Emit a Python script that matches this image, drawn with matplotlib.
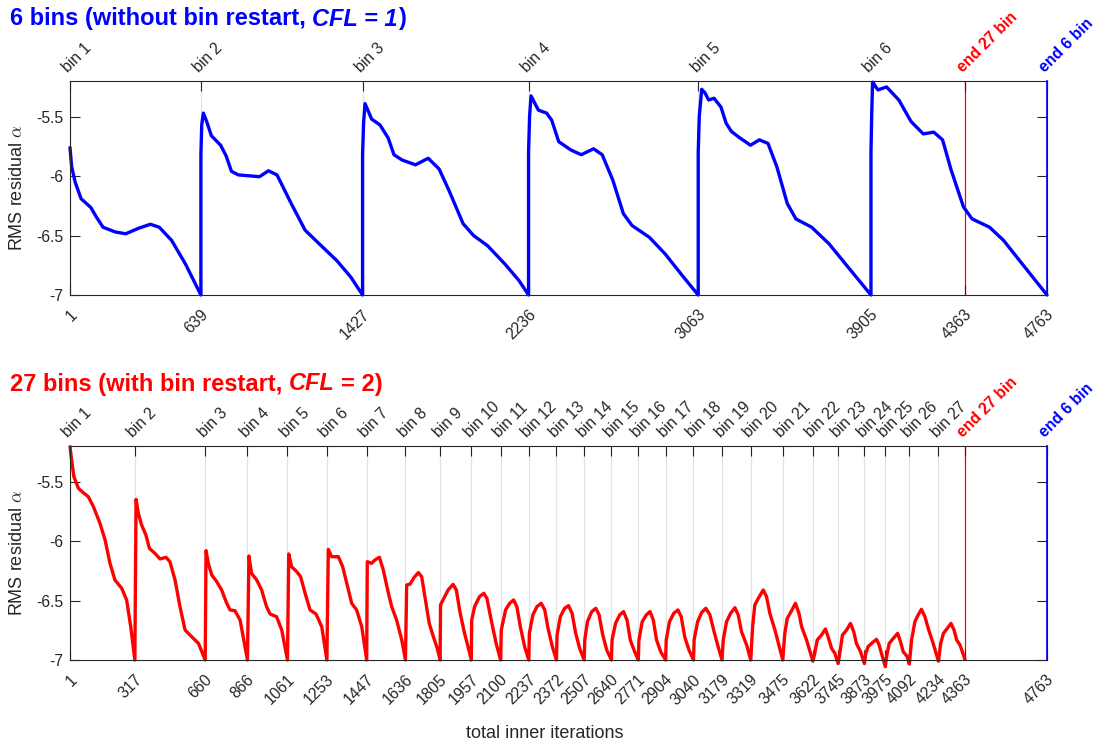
import matplotlib
matplotlib.use('Agg')
import matplotlib.pyplot as plt
from matplotlib.transforms import ScaledTranslation, blended_transform_factory

plt.rcParams['font.family'] = ['Liberation Sans', 'DejaVu Sans']
plt.rcParams['axes.unicode_minus'] = False
plt.rcParams['mathtext.fontset'] = 'cm'

# ---------------- data ----------------
x_max = 4763
end27 = 4363

top_bins = [1, 639, 1427, 2236, 3063, 3905]
top_bin_labels = ['bin 1', 'bin 2', 'bin 3', 'bin 4', 'bin 5', 'bin 6']

bot_bins = [1, 317, 660, 866, 1061, 1253, 1447, 1636, 1805, 1957, 2100, 2237, 2372,
            2507, 2640, 2771, 2904, 3040, 3179, 3319, 3475, 3622, 3745, 3873, 3975,
            4092, 4234]
bot_bin_labels = ['bin %d' % (i + 1) for i in range(27)]

end_labels = ['end 27 bin', 'end 6 bin']

# 6-bin residual history (iteration, log10 RMS residual)
top_iter = [1, 9, 26, 55, 103, 128, 162, 222, 273, 333, 393, 436, 496, 564, 639,
            639, 643, 651, 667, 690, 735, 762, 788, 822, 891, 925, 968, 1010, 1079, 1147, 1216, 1301, 1370, 1427,
            1427, 1432, 1439, 1471, 1512, 1552, 1580, 1620, 1685, 1747, 1800, 1848, 1917, 1968, 2036, 2121, 2190, 2236,
            2236, 2241, 2248, 2284, 2324, 2349, 2383, 2442, 2493, 2553, 2595, 2647, 2698, 2740, 2825, 2902, 2987, 3063,
            3063, 3068, 3080, 3096, 3114, 3140, 3174, 3199, 3225, 3267, 3318, 3361, 3403, 3446, 3497, 3539, 3616, 3701, 3786, 3905,
            3905, 3909, 3913, 3925, 3939, 3981, 4041, 4100, 4160, 4211, 4254, 4296, 4356, 4398, 4483, 4551, 4636, 4763]
top_res = [-5.76, -5.92, -6.05, -6.19, -6.265, -6.34, -6.43, -6.47, -6.485, -6.44, -6.405, -6.43, -6.54, -6.74, -7.0,
           -5.82, -5.57, -5.47, -5.54, -5.66, -5.74, -5.83, -5.96, -5.99, -6.0, -6.005, -5.955, -5.99, -6.23, -6.455, -6.57, -6.71, -6.85, -7.0,
           -5.82, -5.55, -5.39, -5.52, -5.57, -5.68, -5.82, -5.865, -5.905, -5.85, -5.94, -6.12, -6.40, -6.50, -6.585, -6.74, -6.88, -7.0,
           -5.80, -5.50, -5.325, -5.445, -5.47, -5.53, -5.71, -5.78, -5.82, -5.77, -5.82, -6.035, -6.315, -6.415, -6.515, -6.655, -6.84, -7.0,
           -5.80, -5.50, -5.27, -5.30, -5.36, -5.345, -5.42, -5.555, -5.625, -5.68, -5.74, -5.695, -5.725, -5.92, -6.23, -6.36, -6.43, -6.57, -6.75, -7.0,
           -5.80, -5.45, -5.21, -5.24, -5.275, -5.25, -5.36, -5.54, -5.645, -5.63, -5.695, -5.95, -6.26, -6.36, -6.43, -6.54, -6.725, -7.0]

# 27-bin residual history
bot_iter = [1, 9, 20, 42, 66, 90, 115, 147, 172, 196, 220, 253, 277, 297, 317,
            323, 334, 350, 371, 388, 415, 440, 469, 488, 513, 537, 562, 594, 627, 660,
            664, 675, 692, 716, 740, 765, 781, 805, 830, 854, 866,
            873, 886, 911, 935, 959, 976, 1008, 1033, 1061,
            1067, 1081, 1106, 1125, 1147, 1171, 1200, 1228, 1253,
            1260, 1276, 1309, 1330, 1350, 1374, 1398, 1423, 1447,
            1450, 1471, 1487, 1509, 1528, 1553, 1569, 1593, 1618, 1636,
            1642, 1658, 1678, 1699, 1715, 1731, 1752, 1772, 1791, 1805,
            1807, 1819, 1844, 1868, 1884, 1903, 1924, 1941, 1957,
            1959, 1973, 1997, 2018, 2033, 2054, 2078, 2100,
            2103, 2124, 2144, 2163, 2179, 2196, 2217, 2237,
            2240, 2257, 2277, 2298, 2315, 2331, 2352, 2372,
            2375, 2391, 2412, 2431, 2448, 2466, 2485, 2507,
            2510, 2523, 2544, 2564, 2580, 2596, 2617, 2640,
            2643, 2660, 2680, 2699, 2716, 2732, 2753, 2771,
            2774, 2790, 2810, 2828, 2844, 2860, 2880, 2904,
            2907, 2923, 2944, 2964, 2980, 2997, 3018, 3040,
            3043, 3060, 3080, 3100, 3120, 3140, 3160, 3179,
            3185, 3201, 3221, 3242, 3258, 3274, 3299, 3319,
            3328, 3339, 3356, 3380, 3396, 3412, 3437, 3458, 3475,
            3485, 3497, 3518, 3537, 3554, 3567, 3591, 3622,
            3631, 3643, 3664, 3683, 3696, 3713, 3729, 3745,
            3753, 3766, 3786, 3805, 3821, 3834, 3854, 3873,
            3880, 3891, 3912, 3932, 3945, 3956, 3975,
            3981, 3994, 4014, 4035, 4049, 4062, 4082, 4092,
            4103, 4119, 4135, 4151, 4168, 4184, 4208, 4234,
            4245, 4258, 4277, 4295, 4310, 4323, 4339, 4363]
bot_res = [-5.206, -5.318, -5.458, -5.556, -5.593, -5.626, -5.71, -5.85, -5.99, -6.187, -6.327, -6.397, -6.495, -6.72, -7.0,
           -5.649, -5.766, -5.864, -5.949, -6.061, -6.103, -6.15, -6.136, -6.173, -6.327, -6.551, -6.748, -6.804, -6.86, -7.0,
           -6.08, -6.187, -6.285, -6.341, -6.411, -6.523, -6.579, -6.585, -6.664, -6.888, -7.0,
           -6.125, -6.271, -6.327, -6.411, -6.551, -6.613, -6.636, -6.748, -7.0,
           -6.108, -6.215, -6.257, -6.299, -6.439, -6.579, -6.613, -6.72, -7.0,
           -6.069, -6.131, -6.131, -6.215, -6.355, -6.523, -6.579, -6.72, -7.0,
           -6.173, -6.187, -6.159, -6.136, -6.243, -6.439, -6.551, -6.664, -6.832, -7.0,
           -6.369, -6.362, -6.306, -6.265, -6.299, -6.467, -6.692, -6.804, -6.902, -7.0,
           -6.537, -6.495, -6.411, -6.364, -6.411, -6.608, -6.776, -6.888, -7.0,
           -6.664, -6.551, -6.467, -6.439, -6.481, -6.664, -6.86, -7.0,
           -6.748, -6.579, -6.523, -6.495, -6.551, -6.72, -6.888, -7.0,
           -6.776, -6.621, -6.551, -6.523, -6.579, -6.734, -6.888, -7.0,
           -6.79, -6.635, -6.565, -6.543, -6.607, -6.776, -6.902, -7.0,
           -6.832, -6.678, -6.593, -6.565, -6.621, -6.776, -6.916, -7.0,
           -6.832, -6.692, -6.621, -6.593, -6.664, -6.832, -6.93, -7.0,
           -6.832, -6.678, -6.621, -6.593, -6.664, -6.832, -6.93, -7.0,
           -6.832, -6.678, -6.607, -6.579, -6.635, -6.804, -6.916, -7.0,
           -6.832, -6.678, -6.6, -6.565, -6.62, -6.76, -6.888, -7.0,
           -6.832, -6.678, -6.607, -6.56, -6.621, -6.762, -6.874, -7.0,
           -6.72, -6.537, -6.481, -6.411, -6.467, -6.607, -6.748, -6.888, -7.0,
           -6.776, -6.65, -6.585, -6.523, -6.607, -6.72, -6.832, -7.01,
           -6.944, -6.832, -6.79, -6.739, -6.804, -6.902, -6.944, -7.03,
           -6.944, -6.79, -6.748, -6.692, -6.762, -6.86, -6.93, -7.03,
           -6.944, -6.888, -6.854, -6.826, -6.874, -6.944, -7.056,
           -6.972, -6.86, -6.818, -6.776, -6.846, -6.93, -6.972, -7.034,
           -6.832, -6.678, -6.621, -6.574, -6.635, -6.734, -6.86, -7.01,
           -6.86, -6.776, -6.734, -6.692, -6.748, -6.832, -6.874, -6.994]

y_ticks = [-7, -6.5, -6, -5.5]
y_tick_labels = ['-7', '-6.5', '-6', '-5.5']

# ---------------- figure ----------------
W, H = 1097, 744
DPI = 100
fig = plt.figure(figsize=(W / DPI, H / DPI), dpi=DPI)
GRAY = '#262626'
TICK_FS = 11.3

ax_top = fig.add_axes([70 / W, 1 - 295 / H, 977 / W, 214 / H])
ax_bot = fig.add_axes([70 / W, 1 - 660 / H, 977 / W, 214 / H])


def px_offset(dx, dy):
    return ScaledTranslation(dx / DPI, dy / DPI, fig.dpi_scale_trans)


def setup(ax, xs, ys, color, bins, bin_labels):
    ax.set_xlim(1, x_max)
    ax.set_ylim(-7, -5.2)
    bottom_ticks = bins + [end27, x_max]
    # grid lines at bin starts
    for b in bins:
        ax.axvline(b, color='#e3e3e3', lw=0.9, zorder=0.5)
    ax.axvline(end27, color='red', lw=0.9, zorder=1)
    ax.axvline(x_max, color='blue', lw=1.2, zorder=3, clip_on=False)
    ax.plot(xs, ys, color=color, lw=2.4, zorder=2, clip_on=False,
            solid_joinstyle='round', solid_capstyle='round')
    for s in ax.spines.values():
        s.set_color(GRAY)
        s.set_linewidth(0.8)
    ax.spines['right'].set_color('blue')
    # ticks
    ax.set_xticks(bottom_ticks)
    ax.set_xticklabels([])
    ax.set_yticks(y_ticks)
    ax.set_yticklabels(y_tick_labels)
    ax.tick_params(axis='both', direction='in', length=7, width=0.8, color=GRAY,
                   labelcolor=GRAY, labelsize=TICK_FS)
    ax.tick_params(axis='x', top=True, bottom=True)
    ax.tick_params(axis='y', left=True, right=True, pad=5)
    tr_bottom = blended_transform_factory(ax.transData, ax.transAxes)
    for b in bottom_ticks:
        ax.text(b, 0, str(b), transform=tr_bottom + px_offset(10, -12),
                rotation=45, ha='right', va='top', fontsize=TICK_FS, color=GRAY,
                rotation_mode='default')
    top_ticks = bins + [end27, x_max]
    top_labels = bin_labels + end_labels
    for i, (b, lab) in enumerate(zip(top_ticks, top_labels)):
        kw = dict(color=GRAY)
        if lab == 'end 27 bin':
            kw = dict(color='red', fontweight='bold')
        elif lab == 'end 6 bin':
            kw = dict(color='blue', fontweight='bold')
        ax.text(b, 1, lab, transform=tr_bottom + px_offset(-10, 6),
                rotation=45, ha='left', va='bottom', fontsize=TICK_FS,
                rotation_mode='default', **kw)


setup(ax_top, top_iter, top_res, 'blue', top_bins, top_bin_labels)
setup(ax_bot, bot_iter, bot_res, 'red', bot_bins, bot_bin_labels)

for yc in [188, 553]:
    fig.text(18 / W, 1 - yc / H, r'RMS residual $\alpha$', rotation=90,
             ha='center', va='center', fontsize=13, color=GRAY)

fig.text(545 / W, 1 - 733 / H, 'total inner iterations', ha='center', va='center',
         fontsize=13, color=GRAY)

renderer = fig.canvas.get_renderer()


def rich_title(x_px, y_px, parts, color, size=17):
    xp = x_px
    for txt, style, gap in parts:
        xp += gap
        t = fig.text(xp / W, 1 - y_px / H, txt, color=color, fontsize=size,
                     fontweight='bold', style=style, ha='left', va='center')
        bb = t.get_window_extent(renderer)
        xp = bb.x1


sp = 17 * 1.389 * 0.278
rich_title(10, 19, [('6 bins (without bin restart,', 'normal', 0),
                    ('CFL = 1', 'italic', sp),
                    (')', 'normal', 1)], 'blue')
rich_title(10, 384, [('27 bins (with bin restart,', 'normal', 0),
                     ('CFL', 'italic', sp),
                     ('= 2)', 'normal', sp)], 'red')

fig.savefig('out.png', dpi=DPI)
